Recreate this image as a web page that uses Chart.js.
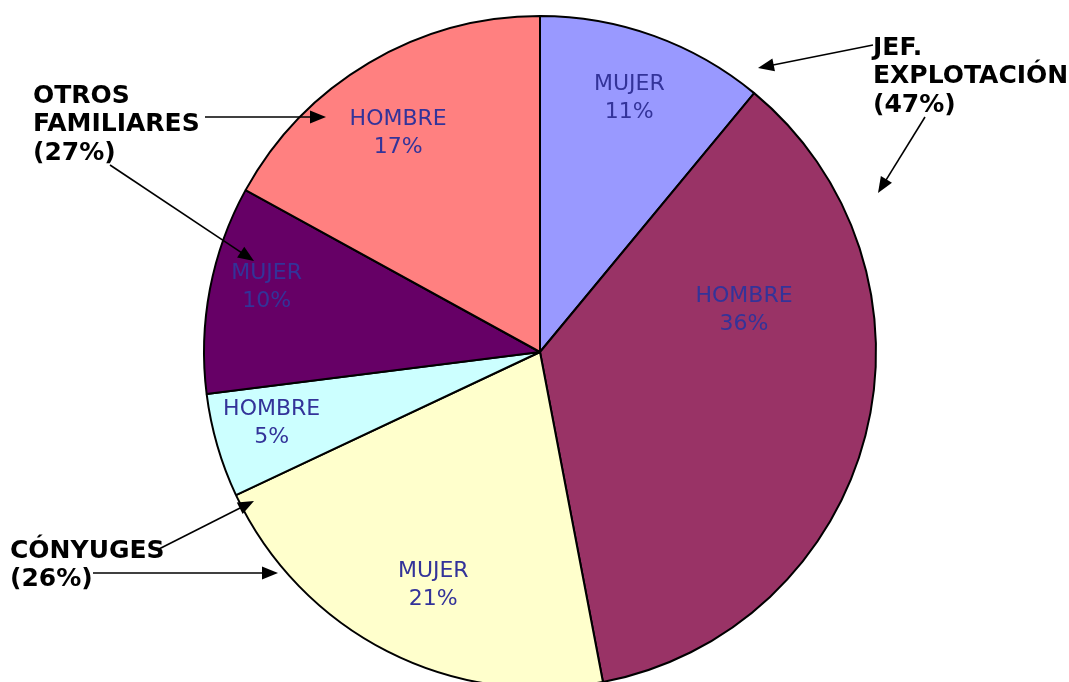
<!DOCTYPE html>
<html>
<head>
<meta charset="utf-8">
<script src="https://cdn.jsdelivr.net/npm/chart.js@4/dist/chart.umd.min.js"></script>
<style>
  html, body { margin: 0; padding: 0; background: #fff; overflow: hidden; }
  #wrap { width: 1069px; height: 720px; }
</style>
</head>
<body>
<div id="wrap"><canvas id="pie" width="1069" height="720"></canvas></div>
<script>
// data (clockwise from 12 o'clock)
const sexes = ["MUJER", "HOMBRE", "MUJER", "HOMBRE", "MUJER", "HOMBRE"];
const shares = [11, 36, 21, 5, 10, 17];
const sliceColors = ["#9999FF", "#993366", "#FFFFCC", "#CCFFFF", "#660066", "#FF8080"];

// group callouts
const groupNames = [["JEF.", "EXPLOTACIÓN"], ["OTROS", "FAMILIARES"], ["CÓNYUGES"]];
const groupShares = [47, 27, 26];

// label placement: fraction of radius + angle shift (deg) from slice middle
const labelRadius = [0.80, 0.62, 0.763, 0.826, 0.836, 0.775];
const labelShift = [-0.4, -26, -2.4, 1.4, 2.5, -2.4];

function arrow(ctx, x1, y1, x2, y2) {
  const a = Math.atan2(y2 - y1, x2 - x1);
  const len = 16, half = 6.5;
  ctx.beginPath();
  ctx.moveTo(x1, y1);
  ctx.lineTo(x2 - Math.cos(a) * len * 0.8, y2 - Math.sin(a) * len * 0.8);
  ctx.stroke();
  ctx.beginPath();
  ctx.moveTo(x2, y2);
  ctx.lineTo(x2 - Math.cos(a) * len - Math.sin(a) * half, y2 - Math.sin(a) * len + Math.cos(a) * half);
  ctx.lineTo(x2 - Math.cos(a) * len + Math.sin(a) * half, y2 - Math.sin(a) * len - Math.cos(a) * half);
  ctx.closePath();
  ctx.fill();
}

const labelsPlugin = {
  id: "sliceLabels",
  afterDatasetsDraw(chart) {
    const ctx = chart.ctx;
    const arcs = chart.getDatasetMeta(0).data;
    ctx.save();
    ctx.fillStyle = "#333399";
    ctx.font = "22px 'DejaVu Sans', Verdana, sans-serif";
    ctx.textAlign = "center";
    ctx.textBaseline = "middle";
    arcs.forEach((arc, i) => {
      const p = arc.getProps(["x", "y", "startAngle", "endAngle", "outerRadius"], true);
      const mid = (p.startAngle + p.endAngle) / 2 + labelShift[i] * Math.PI / 180;
      const r = p.outerRadius * labelRadius[i];
      const cx = p.x + Math.cos(mid) * r;
      const cy = p.y + Math.sin(mid) * r;
      ctx.fillText(sexes[i], cx, cy - 14);
      ctx.fillText(shares[i] + "%", cx, cy + 14);
    });
    ctx.restore();
  },
  afterDraw(chart) {
    const ctx = chart.ctx;
    ctx.save();
    ctx.fillStyle = "#000";
    ctx.strokeStyle = "#000";
    ctx.lineWidth = 1.6;
    ctx.font = "bold 25px 'DejaVu Sans', Verdana, sans-serif";
    ctx.textAlign = "left";
    ctx.textBaseline = "middle";
    // JEF. EXPLOTACIÓN
    let lines = groupNames[0].concat(["(" + groupShares[0] + "%)"]);
    lines.forEach((t, k) => ctx.fillText(t, 873, 48 + k * 28.5));
    // OTROS FAMILIARES
    lines = groupNames[1].concat(["(" + groupShares[1] + "%)"]);
    lines.forEach((t, k) => ctx.fillText(t, 33, 96 + k * 28.5));
    // CÓNYUGES
    lines = groupNames[2].concat(["(" + groupShares[2] + "%)"]);
    lines.forEach((t, k) => ctx.fillText(t, 10, 551 + k * 28.5));

    arrow(ctx, 873, 45, 758, 68);
    arrow(ctx, 925, 117, 878, 193);
    arrow(ctx, 205, 117, 326, 117);
    arrow(ctx, 110, 165, 254, 261);
    arrow(ctx, 157, 550, 254, 501);
    arrow(ctx, 93, 573, 278, 573);
    ctx.restore();
  }
};

new Chart(document.getElementById("pie"), {
  type: "pie",
  data: {
    labels: sexes,
    datasets: [{
      data: shares,
      backgroundColor: sliceColors,
      borderColor: "#000",
      borderWidth: 2,
      hoverOffset: 0
    }]
  },
  options: {
    responsive: false,
    animation: false,
    layout: { padding: { left: 203, right: 192, top: 15, bottom: 31 } },
    plugins: {
      legend: { display: false },
      tooltip: { enabled: false }
    }
  },
  plugins: [labelsPlugin]
});
</script>
</body>
</html>
